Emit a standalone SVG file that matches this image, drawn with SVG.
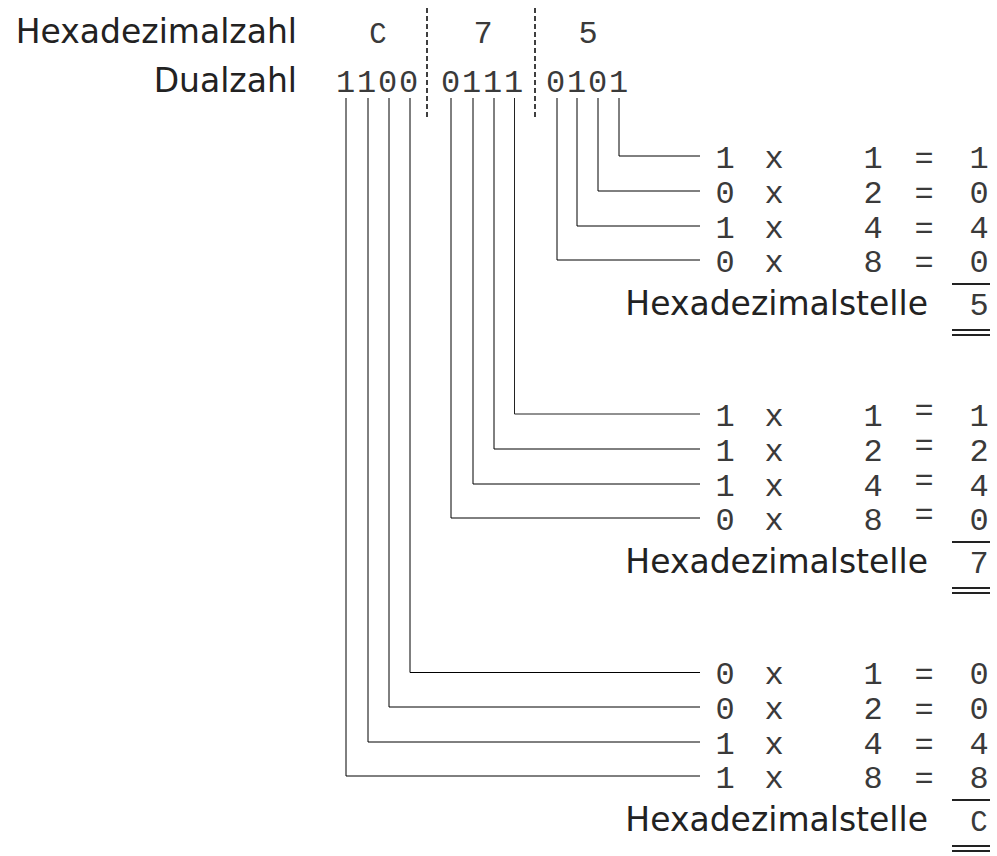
<svg xmlns="http://www.w3.org/2000/svg" width="997" height="856" viewBox="0 0 997 856">
<style>
.lbl{font-family:"DejaVu Sans","Liberation Sans",sans-serif;font-size:33px;fill:#222}
.mono{font-family:"Liberation Mono","DejaVu Sans Mono",monospace;font-size:32px;fill:#3a3a3a}
.c{text-anchor:middle}
.ln{stroke:#000;stroke-width:1;fill:none}
.dash{stroke:#000;stroke-width:1.5;stroke-dasharray:5,3;fill:none}
.bar{stroke:#222;stroke-width:2;fill:none}
</style>
<rect width="997" height="856" fill="#fff"/>
<g id="header">
<text class="lbl" x="297" y="43" text-anchor="end">Hexadezimalzahl</text>
<text class="lbl" x="297" y="92" text-anchor="end">Dualzahl</text>
<text class="mono c" x="378" y="43" style="font-size:29px">C</text>
<text class="mono c" x="483" y="43">7</text>
<text class="mono c" x="588" y="43">5</text>
<text class="mono" x="336" y="92" style="letter-spacing:1.8px">1100 0111 0101</text>
</g>
<g id="separators">
<line class="dash" x1="427" y1="8" x2="427" y2="120"/>
<line class="dash" x1="535" y1="8" x2="535" y2="120"/>
</g>
<g id="connectors">
<path class="ln" d="M619 98V156H700"/>
<path class="ln" d="M598 98V191H700"/>
<path class="ln" d="M577 98V226H700"/>
<path class="ln" d="M557 98V260H700"/>
<path class="ln" d="M514.5 98V414H700" style="stroke:#222"/>
<path class="ln" d="M494 98V449H700"/>
<path class="ln" d="M473 98V484H700"/>
<path class="ln" d="M451 98V518H700"/>
<path class="ln" d="M410 98V672.5H700"/>
<path class="ln" d="M389 98V707H700"/>
<path class="ln" d="M368 98V742H700"/>
<path class="ln" d="M346 98V776H700"/>
</g>
<g id="group5" class="mono">
<text class="c" x="725" y="168">1</text><text class="c" x="774" y="168">x</text><text class="c" x="873" y="168">1</text><text class="c" x="924" y="168">=</text><text class="c" x="979" y="168">1</text>
<text class="c" x="725" y="203">0</text><text class="c" x="774" y="203">x</text><text class="c" x="873" y="203">2</text><text class="c" x="924" y="203">=</text><text class="c" x="979" y="203">0</text>
<text class="c" x="725" y="238">1</text><text class="c" x="774" y="238">x</text><text class="c" x="873" y="238">4</text><text class="c" x="924" y="238">=</text><text class="c" x="979" y="238">4</text>
<text class="c" x="725" y="272">0</text><text class="c" x="774" y="272">x</text><text class="c" x="873" y="272">8</text><text class="c" x="924" y="272">=</text><text class="c" x="979" y="272">0</text>
<line class="bar" x1="952" y1="284" x2="990" y2="284"/>
<text class="lbl" x="928" y="315" text-anchor="end">Hexadezimalstelle</text>
<text class="c" x="979" y="315">5</text>
<line class="bar" x1="952" y1="330" x2="990" y2="330"/>
<line class="bar" x1="952" y1="335" x2="990" y2="335"/>
</g>
<g id="group7" class="mono">
<text class="c" x="725" y="426">1</text><text class="c" x="774" y="426">x</text><text class="c" x="873" y="426">1</text><text class="c" x="924" y="420">=</text><text class="c" x="979" y="426">1</text>
<text class="c" x="725" y="461">1</text><text class="c" x="774" y="461">x</text><text class="c" x="873" y="461">2</text><text class="c" x="924" y="455">=</text><text class="c" x="979" y="461">2</text>
<text class="c" x="725" y="496">1</text><text class="c" x="774" y="496">x</text><text class="c" x="873" y="496">4</text><text class="c" x="924" y="490">=</text><text class="c" x="979" y="496">4</text>
<text class="c" x="725" y="530">0</text><text class="c" x="774" y="530">x</text><text class="c" x="873" y="530">8</text><text class="c" x="924" y="524">=</text><text class="c" x="979" y="530">0</text>
<line class="bar" x1="952" y1="542" x2="990" y2="542"/>
<text class="lbl" x="928" y="573" text-anchor="end">Hexadezimalstelle</text>
<text class="c" x="979" y="573">7</text>
<line class="bar" x1="952" y1="588" x2="990" y2="588"/>
<line class="bar" x1="952" y1="593" x2="990" y2="593"/>
</g>
<g id="groupC" class="mono">
<text class="c" x="725" y="684">0</text><text class="c" x="774" y="684">x</text><text class="c" x="873" y="684">1</text><text class="c" x="924" y="684">=</text><text class="c" x="979" y="684">0</text>
<text class="c" x="725" y="719">0</text><text class="c" x="774" y="719">x</text><text class="c" x="873" y="719">2</text><text class="c" x="924" y="719">=</text><text class="c" x="979" y="719">0</text>
<text class="c" x="725" y="754">1</text><text class="c" x="774" y="754">x</text><text class="c" x="873" y="754">4</text><text class="c" x="924" y="754">=</text><text class="c" x="979" y="754">4</text>
<text class="c" x="725" y="788">1</text><text class="c" x="774" y="788">x</text><text class="c" x="873" y="788">8</text><text class="c" x="924" y="788">=</text><text class="c" x="979" y="788">8</text>
<line class="bar" x1="952" y1="800" x2="990" y2="800"/>
<text class="lbl" x="928" y="831" text-anchor="end">Hexadezimalstelle</text>
<text class="c" x="979" y="831" style="font-size:29px">C</text>
<line class="bar" x1="952" y1="846" x2="990" y2="846"/>
<line class="bar" x1="952" y1="851" x2="990" y2="851"/>
</g>
</svg>
